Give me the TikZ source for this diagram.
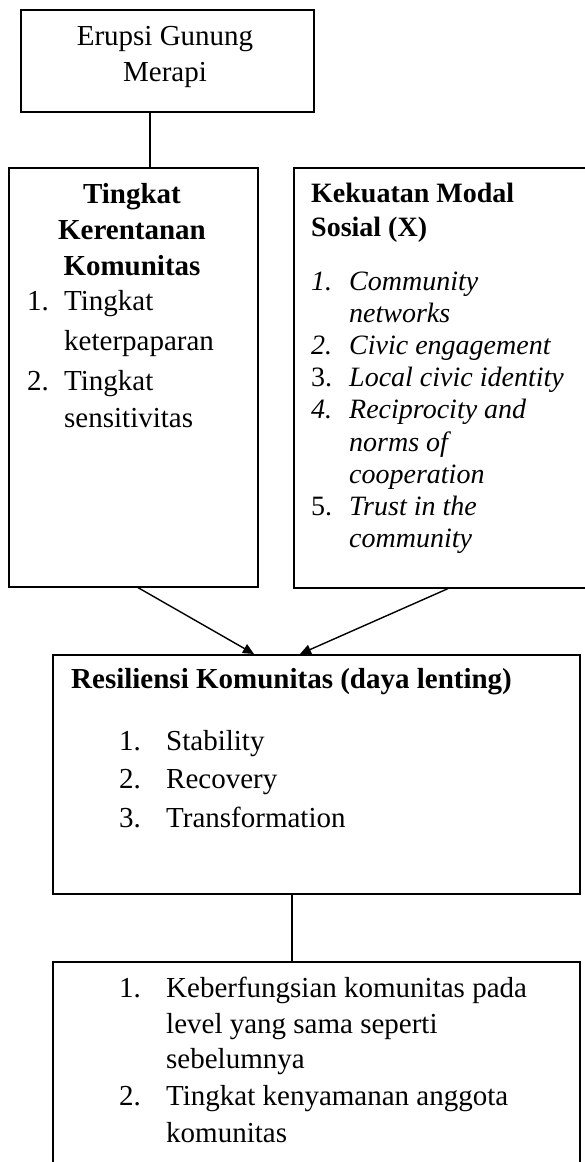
\documentclass[tikz,border=0pt]{standalone}
\usepackage{fontspec}
\setmainfont{Liberation Serif}
\usetikzlibrary{arrows.meta}
\newcommand\fsz{\fontsize{29}{36}\selectfont}
\newcommand\fsr{\fontsize{28}{33}\selectfont}
\begin{document}
\begin{tikzpicture}[x=1pt,y=-1pt,
  boxnode/.style={draw, line width=1.6pt, rectangle, anchor=north west, inner sep=0pt},
  tl/.style={inner sep=0pt, anchor=base west, font=\fsz},
  tc/.style={inner sep=0pt, anchor=base, font=\fsz},
  tr/.style={inner sep=0pt, anchor=base west, font=\fsr},
  conn/.style={line width=1.4pt},
  arr/.style={line width=1.4pt, -{Triangle[length=11pt,width=10pt]}}]
\clip (0,0) rectangle (585,1162);
% boxes
\node[boxnode, minimum width=293pt, minimum height=102pt] (top) at (20,9) {};
\node[boxnode, minimum width=249pt, minimum height=419pt] (left) at (8,167) {};
\node[boxnode, minimum width=310pt, minimum height=420pt] (right) at (293,167) {};
\node[boxnode, minimum width=527pt, minimum height=239pt] (res) at (52,654) {};
\node[boxnode, minimum width=527pt, minimum height=230pt] (out) at (52,961) {};
% connector x positions
\coordinate (x1) at (150,0);
\coordinate (x2) at (138,0);
\coordinate (x3) at (254,0);
\coordinate (x4) at (448,0);
\coordinate (x5) at (300,0);
\coordinate (x6) at (292,0);
\draw[conn] (top.south -| x1) -- (left.north -| x1);
\draw[arr] (left.south -| x2) -- (res.north -| x3);
\draw[arr] (right.south -| x4) -- (res.north -| x5);
\draw[conn] (res.south -| x6) -- (out.north -| x6);
% top text
\node[tc] (t1) at (165,45) {Erupsi Gunung};
\node[tc] (t2) at (165,81) {Merapi};
% left text
\node[tc] (l1) at (132,203) {\bfseries Tingkat};
\node[tc] (l2) at (132,239) {\bfseries Kerentanan};
\node[tc] (l3) at (132,275) {\bfseries Komunitas};
\node[tl] (ln1) at (27,310) {1.};
\node[tl] (l4) at (64,310) {Tingkat};
\node[tl] (l5) at (64,350) {keterpaparan};
\node[tl] (ln2) at (27,390) {2.};
\node[tl] (l6) at (64,390) {Tingkat};
\node[tl] (l7) at (64,427) {sensitivitas};
% right text
\node[tr] (r1) at (311,202) {\bfseries Kekuatan Modal};
\node[tr] (r2) at (311,236) {\bfseries Sosial (X)};
\node[tr] (rn1) at (311,290) {\itshape 1.};
\node[tr] (r3) at (349,290) {\itshape Community};
\node[tr] (r4) at (349,322) {\itshape networks};
\node[tr] (rn2) at (311,354) {\itshape 2.};
\node[tr] (r5) at (349,354) {\itshape Civic engagement};
\node[tr] (rn3) at (311,386) {3.};
\node[tr] (r6) at (349,386) {\itshape Local civic identity};
\node[tr] (rn4) at (311,418) {\itshape 4.};
\node[tr] (r7) at (349,418) {\itshape Reciprocity and};
\node[tr] (r8) at (349,451) {\itshape norms of};
\node[tr] (r9) at (349,483) {\itshape cooperation};
\node[tr] (rn5) at (311,515) {5.};
\node[tr] (r10) at (349,515) {\itshape Trust in the};
\node[tr] (r11) at (349,547) {\itshape community};
% resiliensi text
\node[tl] (s0) at (71,688) {\bfseries Resiliensi Komunitas (daya lenting)};
\node[tl] (sn1) at (119,750) {1.};
\node[tl] (s1) at (166,750) {Stability};
\node[tl] (sn2) at (119,788) {2.};
\node[tl] (s2) at (166,788) {Recovery};
\node[tl] (sn3) at (119,827) {3.};
\node[tl] (s3) at (166,827) {Transformation};
% output text
\node[tl] (on1) at (119,997) {1.};
\node[tl] (o1) at (166,997) {Keberfungsian komunitas pada};
\node[tl] (o2) at (166,1033) {level yang sama seperti};
\node[tl] (o3) at (166,1068) {sebelumnya};
\node[tl] (on2) at (119,1105) {2.};
\node[tl] (o4) at (166,1105) {Tingkat kenyamanan anggota};
\node[tl] (o5) at (166,1142) {komunitas};
\end{tikzpicture}
\end{document}
